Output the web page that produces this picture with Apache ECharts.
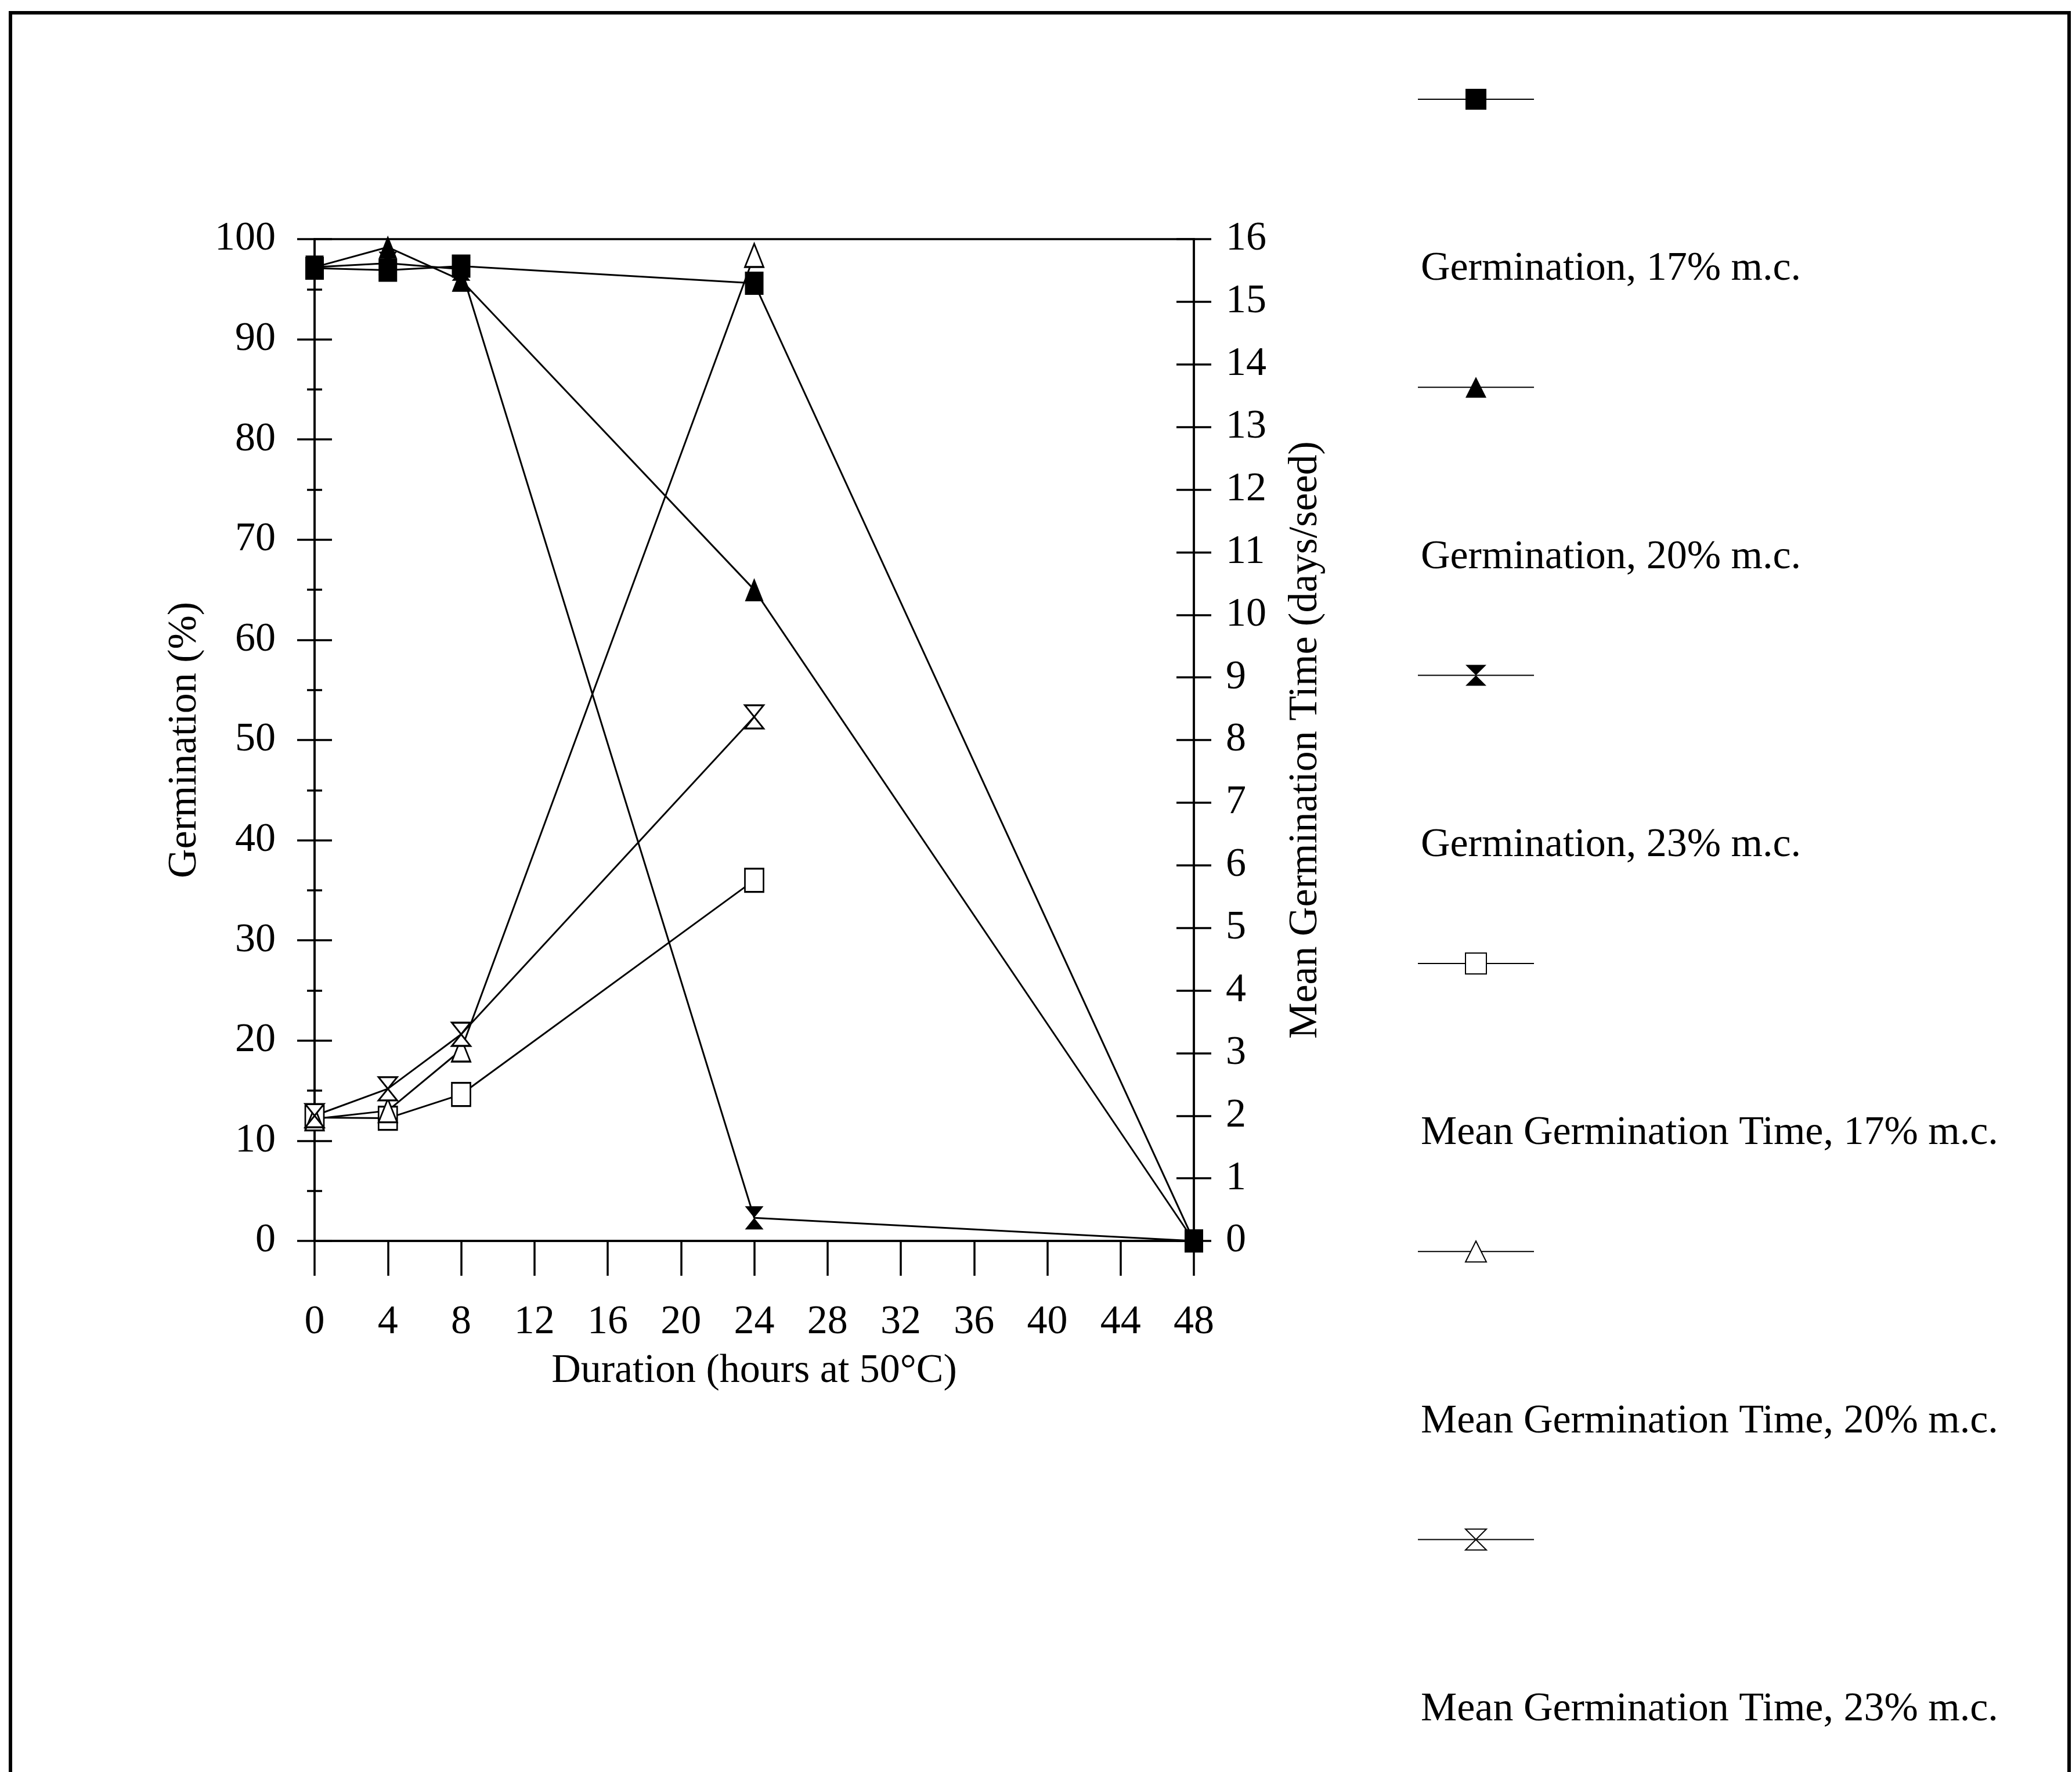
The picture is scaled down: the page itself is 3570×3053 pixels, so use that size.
<!DOCTYPE html>
<html>
<head>
<meta charset="utf-8">
<script src="https://cdn.jsdelivr.net/npm/echarts@6/dist/echarts.min.js"></script>
<style>
html,body{margin:0;padding:0;background:#fff;}
#chart{width:3570px;height:3053px;}
</style>
</head>
<body>
<div id="chart"></div>
<script>
// ---- data ----
const hours = [0, 4, 8, 24, 48];
const mgtHours = [0, 4, 8, 24];
const germ17 = [97.1, 96.9, 97.3, 95.6, 0];
const germ20 = [97.2, 99.2, 95.9, 65.0, 0];
const germ23 = [97.2, 97.6, 97.0, 2.3, 0];
const mgt17 = [1.97, 1.96, 2.34, 5.76];
const mgt20 = [1.95, 2.08, 3.05, 15.74];
const mgt23 = [2.0, 2.43, 3.3, 8.37];
const seriesNames = [
  'Germination, 17% m.c.',
  'Germination, 20% m.c.',
  'Germination, 23% m.c.',
  'Mean Germination Time, 17% m.c.',
  'Mean Germination Time, 20% m.c.',
  'Mean Germination Time, 23% m.c.'
];
const xTicks = {min: 0, max: 48, interval: 4};
const yLeftTicks = {min: 0, max: 100, interval: 10};
const yRightTicks = {min: 0, max: 16, interval: 1};
const xTitle = 'Duration (hours at 50°C)';
const yLeftTitle = 'Germination (%)';
const yRightTitle = 'Mean Germination Time (days/seed)';

// ---- styling ----
const FONT = 'Liberation Serif';
const FS = 70;
const HOURGLASS = 'path://M0,0L10,0L0,10L10,10Z';
const black = '#000';

function pairs(xs, ys) { return xs.map((x, i) => [x, ys[i]]); }

function mkSeries(name, data, yIdx, symbol, open) {
  return {
    name: name,
    type: 'line',
    yAxisIndex: yIdx,
    data: data,
    symbol: symbol,
    symbolSize: [32, 40],
    clip: false,
    lineStyle: {color: black, width: 3},
    itemStyle: open
      ? {color: '#fff', borderColor: black, borderWidth: 3}
      : {color: black, borderColor: black, borderWidth: 0},
    emphasis: {disabled: true}
  };
}

const series = [
  mkSeries(seriesNames[0], pairs(hours, germ17), 0, 'rect', false),
  mkSeries(seriesNames[1], pairs(hours, germ20), 0, 'triangle', false),
  mkSeries(seriesNames[2], pairs(hours, germ23), 0, HOURGLASS, false),
  mkSeries(seriesNames[3], pairs(mgtHours, mgt17), 1, 'rect', true),
  mkSeries(seriesNames[4], pairs(mgtHours, mgt20), 1, 'triangle', true),
  mkSeries(seriesNames[5], pairs(mgtHours, mgt23), 1, HOURGLASS, true)
];

const legends = [];
const legStep = 496.3;
seriesNames.forEach((n, i) => {
  const iconC = 171 + i * legStep;
  const textC = 464 + i * legStep;
  legends.push({
    data: [n], left: 2442, top: iconC - 22.5, orient: 'vertical', padding: 0,
    itemWidth: 200, itemHeight: 45, selectedMode: false,
    formatter: function () { return ''; },
    textStyle: {fontSize: 1}
  });
  legends.push({
    data: [n], left: 2443, top: textC - 35, orient: 'vertical', padding: 0,
    icon: 'none', itemWidth: 0, itemHeight: 0, selectedMode: false,
    textStyle: {fontFamily: FONT, fontSize: FS, color: black}
  });
});

const tickLine = {color: black, width: 3.5};
const lblStyle = {fontFamily: FONT, fontSize: FS, color: black};

const option = {
  animation: false,
  backgroundColor: '#fff',
  textStyle: {fontFamily: FONT},
  graphic: [{
    type: 'rect', silent: true,
    shape: {x: 18, y: 22, width: 3547, height: 3300},
    style: {fill: 'none', stroke: black, lineWidth: 6}
  }],
  grid: {left: 542, right: 1513, top: 412, bottom: 915, show: true, borderColor: black, borderWidth: 3.5, backgroundColor: 'transparent'},
  legend: legends,
  xAxis: {
    type: 'value', min: xTicks.min, max: xTicks.max, interval: xTicks.interval,
    axisLine: {show: true, lineStyle: tickLine},
    axisTick: {show: true, length: 60, lineStyle: tickLine},
    axisLabel: Object.assign({margin: 106}, lblStyle),
    splitLine: {show: false},
    name: xTitle, nameLocation: 'middle', nameGap: 190,
    nameTextStyle: lblStyle
  },
  yAxis: [
    {
      type: 'value', position: 'left', min: yLeftTicks.min, max: yLeftTicks.max, interval: yLeftTicks.interval,
      axisLine: {show: true, lineStyle: tickLine},
      axisTick: {show: true, length: 30, lineStyle: tickLine},
      minorTick: {show: true, splitNumber: 2, length: 13, lineStyle: tickLine},
      axisLabel: Object.assign({margin: 67}, lblStyle),
      splitLine: {show: false},
      name: yLeftTitle, nameLocation: 'middle', nameGap: 188, nameRotate: 90,
      nameTextStyle: lblStyle
    },
    {
      type: 'value', position: 'right', min: yRightTicks.min, max: yRightTicks.max, interval: yRightTicks.interval,
      axisLine: {show: true, lineStyle: tickLine},
      axisTick: {show: true, length: 30, lineStyle: tickLine},
      axisLabel: Object.assign({margin: 55}, lblStyle),
      splitLine: {show: false},
      name: yRightTitle, nameLocation: 'middle', nameGap: 158, nameRotate: 90,
      nameTextStyle: lblStyle
    },
    {
      type: 'value', position: 'left', min: yLeftTicks.min, max: yLeftTicks.max, interval: yLeftTicks.interval,
      axisLine: {show: false},
      axisTick: {show: true, inside: true, length: 30, lineStyle: tickLine},
      minorTick: {show: true, splitNumber: 2, length: 13, lineStyle: tickLine},
      axisLabel: {show: false},
      splitLine: {show: false}
    },
    {
      type: 'value', position: 'right', min: yRightTicks.min, max: yRightTicks.max, interval: yRightTicks.interval,
      axisLine: {show: false},
      axisTick: {show: true, inside: true, length: 30, lineStyle: tickLine},
      axisLabel: {show: false},
      splitLine: {show: false}
    }
  ],
  series: series
};

const chart = echarts.init(document.getElementById('chart'), null, {renderer: 'canvas'});
chart.setOption(option);
</script>
</body>
</html>
